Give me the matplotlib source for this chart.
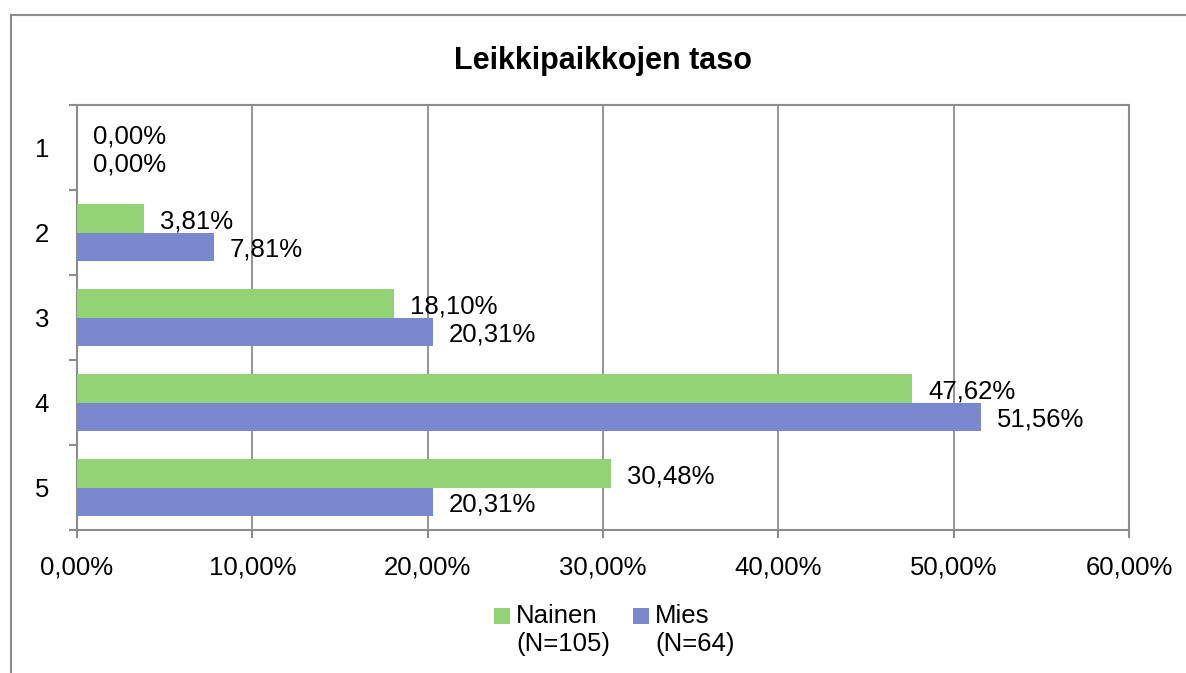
import matplotlib.pyplot as plt
from matplotlib.lines import Line2D
from matplotlib.patches import Rectangle
from matplotlib.container import BarContainer
from matplotlib.legend_handler import HandlerPatch, update_from_first_child
from matplotlib.ticker import FixedLocator

plt.rcParams['font.family'] = ['Liberation Sans', 'DejaVu Sans']

# data
categories = ['1', '2', '3', '4', '5']
nainen = [0.00, 3.81, 18.10, 47.62, 30.48]
mies = [0.00, 7.81, 20.31, 51.56, 20.31]
series_names = ['Nainen\n(N=105)', 'Mies\n(N=64)']
xticks = [0, 10, 20, 30, 40, 50, 60]

green = '#93D275'
blue = '#7A88CE'
grid_col = '#8C8C8C'
fs = 18.5

fig = plt.figure(figsize=(11.86, 6.73), dpi=100)
ax = fig.add_axes([77 / 1186, 1 - 530 / 673, (1129 - 77) / 1186, (530 - 105) / 673])

# outer chart border (left + top visible)
fig.add_artist(Line2D([11 / 1186, 11 / 1186], [0, 1 - 15 / 673], transform=fig.transFigure,
                      color='#8C8C8C', lw=1.5))
fig.add_artist(Line2D([11 / 1186, 1.0], [1 - 15 / 673, 1 - 15 / 673], transform=fig.transFigure,
                      color='#8C8C8C', lw=1.5))

y = list(range(len(categories)))
h = 0.33
ax.barh([i - h / 2 for i in y], nainen, height=h, color=green, label=series_names[0], zorder=3)
ax.barh([i + h / 2 for i in y], mies, height=h, color=blue, label=series_names[1], zorder=3)

# value labels
for i in y:
    ax.annotate(f'{nainen[i]:.2f}%'.replace('.', ','), (nainen[i], i - h / 2),
                xytext=(11.5, -2), textcoords='offset points', va='center', ha='left',
                fontsize=fs, zorder=4)
    ax.annotate(f'{mies[i]:.2f}%'.replace('.', ','), (mies[i], i + h / 2),
                xytext=(11.5, -2), textcoords='offset points', va='center', ha='left',
                fontsize=fs, zorder=4)

ax.set_xlim(0, 60)
ax.set_ylim(4.5, -0.5)
ax.set_xticks(xticks)
ax.set_xticklabels([f'{t:.2f}%'.replace('.', ',') for t in xticks], fontsize=fs)
ax.set_yticks(y)
ax.set_yticklabels(categories, fontsize=fs)
ax.yaxis.set_minor_locator(FixedLocator([i - 0.5 for i in range(len(categories) + 1)]))
ax.tick_params(axis='y', which='major', length=0, pad=20)
ax.tick_params(axis='y', which='minor', length=6, color=grid_col, width=1.5, direction='out')
ax.tick_params(axis='x', length=6, color=grid_col, width=1.5, direction='out', pad=12)

ax.grid(axis='x', color=grid_col, lw=1.3, zorder=0)
for s in ax.spines.values():
    s.set_color(grid_col)
    s.set_linewidth(1.5)

ax.set_title('Leikkipaikkojen taso', fontsize=22, fontweight='bold', pad=26)


# legend squares sit next to the first line of the label
def top_square(legend, orig_handle, xdescent, ydescent, width, height, fontsize):
    return Rectangle((-xdescent, -ydescent + 0.55 * fontsize), width, height)


leg = ax.legend(loc='upper center', bbox_to_anchor=(0.511, -0.12), ncol=2, frameon=False,
                fontsize=fs, handlelength=0.6, handleheight=0.6, handletextpad=0.25,
                columnspacing=0.9, labelspacing=0.0,
                handler_map={BarContainer: HandlerPatch(patch_func=top_square,
                                                        update_func=update_from_first_child)})

fig.savefig('out.png', dpi=100)
